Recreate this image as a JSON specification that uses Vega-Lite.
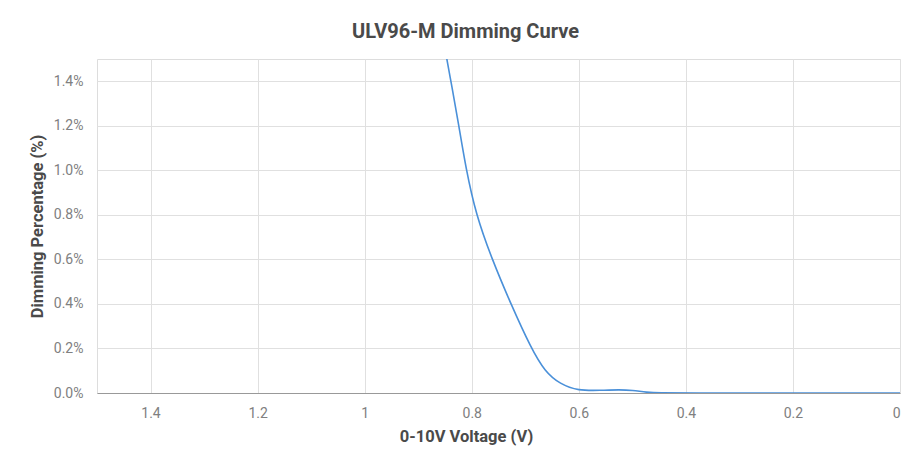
{
  "$schema": "https://vega.github.io/schema/vega-lite/v6.json",
  "autosize": "none",
  "width": 803,
  "height": 334,
  "padding": {"left": 97, "top": 59, "right": 4, "bottom": 66},
  "background": "white",
  "title": {"text": "ULV96-M Dimming Curve", "font": "Roboto", "fontSize": 20, "fontWeight": "bold", "color": "#4a4a4a", "anchor": "middle", "dx": -33, "offset": 17},
  "config": {
    "view": {"stroke": "#dddddd"},
    "axis": {"labelFont": "Roboto", "titleFont": "Roboto", "labelColor": "#808080", "titleColor": "#4a4a4a", "labelFontSize": 14, "titleFontSize": 16.5, "titleFontWeight": "bold", "gridColor": "#e0e0e0", "ticks": false}
  },
  "data": {"values": [
    {"v": 0.87, "p": 0.0182},
    {"v": 0.846, "p": 0.0149},
    {"v": 0.838, "p": 0.0139},
    {"v": 0.824, "p": 0.0120},
    {"v": 0.811, "p": 0.0101},
    {"v": 0.792, "p": 0.0080},
    {"v": 0.762, "p": 0.0060},
    {"v": 0.727, "p": 0.0040},
    {"v": 0.689, "p": 0.0020},
    {"v": 0.663, "p": 0.00095},
    {"v": 0.635, "p": 0.00040},
    {"v": 0.601, "p": 0.0001},
    {"v": 0.56, "p": 0.00012},
    {"v": 0.523, "p": 0.00015},
    {"v": 0.50, "p": 0.00012},
    {"v": 0.473, "p": 0.00003},
    {"v": 0.45, "p": 0.0},
    {"v": 0.4, "p": 0.0},
    {"v": 0.2, "p": 0.0},
    {"v": 0.0, "p": 0.0}
  ]},
  "mark": {"type": "line", "color": "#4a90d9", "strokeWidth": 1.6, "interpolate": "basis", "clip": true},
  "encoding": {
    "x": {"field": "v", "type": "quantitative", "title": "0-10V Voltage (V)",
      "scale": {"domain": [0, 1.5], "reverse": true, "nice": false, "zero": false},
      "axis": {"values": [0, 0.2, 0.4, 0.6, 0.8, 1, 1.2, 1.4], "format": "~g", "labelPadding": 13, "titlePadding": 8, "titleX": 369, "domainColor": "#999999"}},
    "y": {"field": "p", "type": "quantitative", "title": "Dimming Percentage (%)",
      "scale": {"domain": [0, 0.015], "nice": false},
      "axis": {"values": [0, 0.002, 0.004, 0.006, 0.008, 0.01, 0.012, 0.014], "format": ".1%", "labelPadding": 14, "titlePadding": 8, "domain": false}}
  }
}
